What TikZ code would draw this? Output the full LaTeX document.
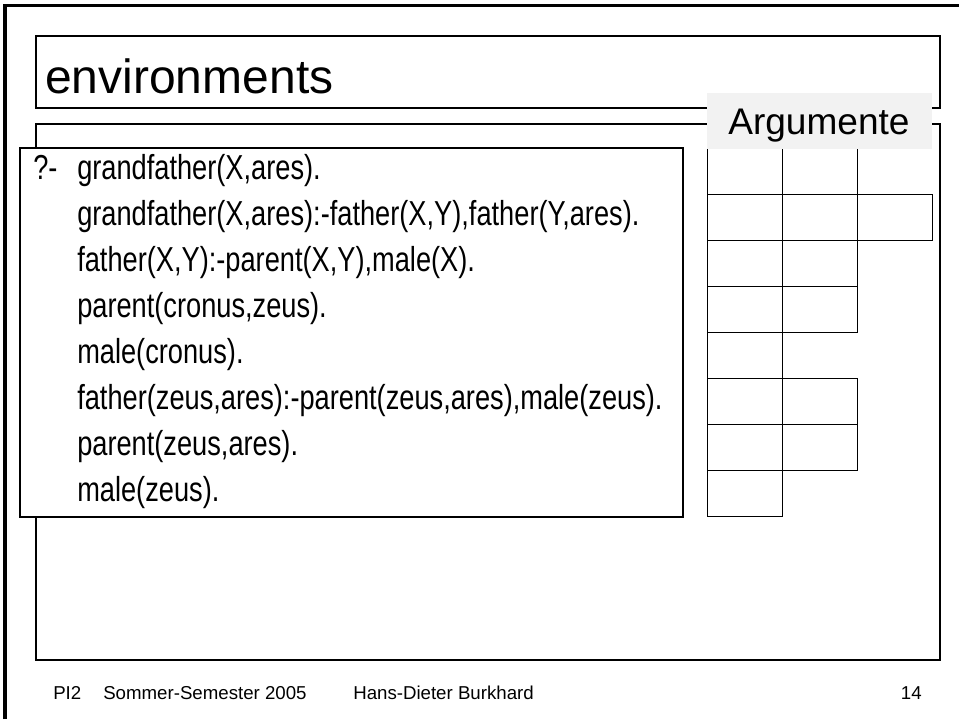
\documentclass[tikz,border=0pt]{standalone}
\usepackage{fontspec}
\setmainfont{Liberation Sans}
\newfontfamily\codefont{Liberation Sans}[FakeStretch=0.785]
\begin{document}
\begin{tikzpicture}[x=0.75pt,y=-0.75pt,
  frame/.style={draw=black,line width=1.05pt},
  cell/.style={draw=black,line width=1.05pt,anchor=north west,inner sep=0pt,
    minimum width=56.25pt,minimum height=34.5pt},
  titletext/.style={anchor=base west,inner sep=0pt,font=\fontsize{36}{43}\selectfont},
  argtext/.style={anchor=base west,inner sep=0pt,font=\fontsize{27.8}{33}\selectfont},
  codeline/.style={anchor=base west,inner sep=0pt,font=\codefont\fontsize{26}{31}\selectfont},
  foot/.style={anchor=base west,inner sep=0pt,font=\fontsize{14}{17}\selectfont}]
\useasboundingbox (0,0) rectangle (959,719);

% slide edge
\draw[line width=2.3pt] (5,719) -- (5,5.5) -- (959,5.5);

% title and content panels
\draw[frame] (36,36) rectangle (940,108);
\draw[frame] (36,124) rectangle (940,660);

% program box
\draw[frame,fill=white] (20,148) rectangle (683,517);

% environment cells
\node[cell] (r0a) at (707,148) {};
\node[cell] (r0b) at (782,148) {};
\node[cell] (r1a) at (707,194) {};
\node[cell] (r1b) at (782,194) {};
\node[cell] (r1c) at (857,194) {};
\node[cell] (r2a) at (707,240) {};
\node[cell] (r2b) at (782,240) {};
\node[cell] (r3a) at (707,286) {};
\node[cell] (r3b) at (782,286) {};
\node[cell] (r4a) at (707,332) {};
\node[cell] (r5a) at (707,378) {};
\node[cell] (r5b) at (782,378) {};
\node[cell] (r6a) at (707,424) {};
\node[cell] (r6b) at (782,424) {};
\node[cell] (r7a) at (707,470) {};

% header of the cell column
\fill[black!5] (707,93) rectangle (932,149);
\node[argtext] (arg) at (728,134) {Argumente};

\node[titletext] (title) at (45,93) {environments};

% program text
\node[codeline] (q) at (33,179) {?-};
\node[codeline] (l1) at (77,179) {grandfather(X,ares).};
\node[codeline] (l2) at (77,225) {grandfather(X,ares):-father(X,Y),father(Y,ares).};
\node[codeline] (l3) at (77,271) {father(X,Y):-parent(X,Y),male(X).};
\node[codeline] (l4) at (77,317) {parent(cronus,zeus).};
\node[codeline] (l5) at (77,363) {male(cronus).};
\node[codeline] (l6) at (77,409) {father(zeus,ares):-parent(zeus,ares),male(zeus).};
\node[codeline] (l7) at (77,455) {parent(zeus,ares).};
\node[codeline] (l8) at (77,501) {male(zeus).};

% footer
\node[foot] (f1) at (53,699) {PI2};
\node[foot] (f2) at (103,699) {Sommer-Semester 2005};
\node[foot] (f3) at (353,699) {Hans-Dieter Burkhard};
\node[foot,anchor=base east] (f4) at (922,699) {14};
\end{tikzpicture}
\end{document}
